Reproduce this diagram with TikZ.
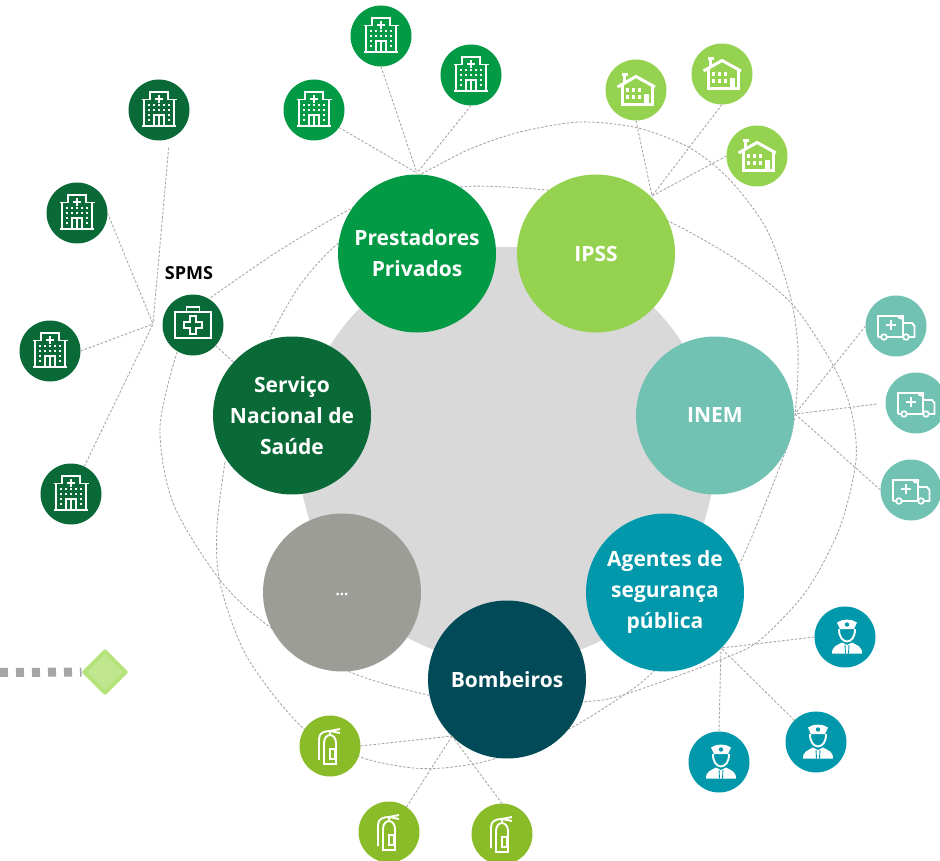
\documentclass[tikz,border=0pt]{standalone}
\usepackage{fontspec}
\setmainfont{Open Sans}
\usetikzlibrary{shapes.geometric}
\definecolor{cSns}{HTML}{0A6A37}
\definecolor{cPrest}{HTML}{039A45}
\definecolor{cIpss}{HTML}{94D250}
\definecolor{cInem}{HTML}{72C2B4}
\definecolor{cAgent}{HTML}{0098AA}
\definecolor{cBomb}{HTML}{004B57}
\definecolor{cOther}{HTML}{9D9D97}
\definecolor{cFire}{HTML}{8ABB28}
\definecolor{cDisc}{HTML}{D9D9D9}
\definecolor{cLine}{HTML}{A8A8A8}
\tikzstyle{main} = [circle, minimum size=158pt, inner sep=0pt, outer sep=0pt, text=white, align=center, font=\bfseries\fontsize{21}{31}\selectfont]
\tikzstyle{sat} = [circle, minimum size=61pt, inner sep=0pt, outer sep=0pt]
\tikzstyle{link} = [draw=cLine, line width=0.9pt, dash pattern=on 2.6pt off 1.7pt]
\tikzstyle{icon} = [draw=white, line width=1.9pt]
\tikzset{
	hospital/.pic={
		\draw[icon] (-17.5,-10.5) -- (-9,-10.5) -- (-9,-18) -- (9,-18) -- (9,-10.5) -- (17.5,-10.5);
		\draw[icon] (-15,-10.5) -- (-15,16) (15,-10.5) -- (15,16) (-17,16) -- (17,16);
		\draw[icon] (-5,16) -- (-5,5) -- (5,5) -- (5,16) (0,5) -- (0,16);
		\draw[white, line width=2.6pt] (-4,-11) -- (4,-11) (0,-15) -- (0,-7);
		\foreach \i in {-10,-5,0,5,10}{
			\fill[white] (\i-1.1,-6.1) rectangle (\i+1.1,-3.9);
			\fill[white] (\i-1.1,-1.1) rectangle (\i+1.1,1.1);
		}
		\foreach \i in {-10,10}{
			\fill[white] (\i-1.1,3.9) rectangle (\i+1.1,6.1);
			\fill[white] (\i-1.1,8.9) rectangle (\i+1.1,11.1);
		}
	},
	house/.pic={
		\draw[white, line width=3pt] (-18.5,-3) -- (0,-13.5) -- (19,-3);
		\draw[white, line width=3pt] (-14,-5) -- (-14,14.5) -- (16,14.5) -- (16,-5);
		\fill[white] (-14.5,-16.5) rectangle (-8.5,-13.5);
		\fill[white] (-13,-14) rectangle (-10,-8);
		\fill[white] (7.5,4) rectangle (13,14);
		\foreach \i in {-9,-3,3}{
			\fill[white] (\i-1.5,-2) rectangle (\i+1.5,2.5);
			\fill[white] (\i-1.5,5) rectangle (\i+1.5,9.5);
		}
	},
	ambulance/.pic={
		\draw[icon] (-18,11) -- (-18,-10) -- (7,-10) -- (7,11);
		\draw[icon] (7,-3) -- (16,-3) -- (18.5,0) -- (18.5,11) -- (-18,11);
		\draw[icon] (2.5,-10) arc[start angle=180, end angle=0, radius=2.5];
		\draw[white, line width=2.2pt] (-10,-1) -- (0,-1) (-5,-6) -- (-5,4);
		\filldraw[fill=cInem, draw=white, line width=1.7pt] (-12,11) circle (2.8) (10,11) circle (2.8);
	},
	police/.pic={
		\begin{scope}[shift={(2,0)}]
		\fill[white] (-7,-8) -- (-10,-14.5) .. controls (-4,-18.5) and (4,-18.5) .. (10,-14.5) -- (7,-8) -- cycle;
		\fill[cAgent] (0,-12.5) circle (2.2);
		\draw[icon] (-8,-8) .. controls (-8,1) and (-4,4) .. (0,4.5) .. controls (4,4) and (8,1) .. (8,-8);
		\fill[white] (-15,16.5) .. controls (-15,9) and (-10,8.5) .. (-5,5.5) -- (0,8) -- (5,5.5) .. controls (10,8.5) and (15,9) .. (15,16.5) -- cycle;
		\draw[cAgent, line width=0.9pt] (-2,8) -- (-1.5,16.5) (2,8) -- (1.5,16.5);
		\end{scope}
	},
	extinguisher/.pic={
		\draw[icon] (-6,18) -- (-6,-3) .. controls (-6,-8) and (-3,-11) .. (0,-11) .. controls (3,-11) and (6,-8) .. (6,-3) -- (6,18) -- cycle;
		\draw[white, line width=1.6pt] (0,3) rectangle (5,13);
		\draw[icon] (-11,14) -- (-11,-7) .. controls (-11,-13) and (-6,-15) .. (0,-15) -- (10,-17);
		\draw[icon] (0,-15) -- (10,-13) (0,-15) -- (0,-11);
	},
	medkit/.pic={
		\draw[icon] (-18,-13) rectangle (18,13);
		\draw[icon] (-6.5,-13) -- (-6.5,-18) -- (6.5,-18) -- (6.5,-13);
		\draw[icon] (-3,-9) -- (3,-9) -- (3,-3) -- (9,-3) -- (9,3) -- (3,3) -- (3,9) -- (-3,9) -- (-3,3) -- (-9,3) -- (-9,-3) -- (-3,-3) -- cycle;
	}
}
\begin{document}
\begin{tikzpicture}[x=1pt,y=-1pt]
	\useasboundingbox (0,0) rectangle (940,861);
	\fill[cDisc] (507,455) circle (208);

	% the long curves run under the circles
	\draw[link] plot[smooth] coordinates {(177,352) (160,427) (173,503) (220,580) (270,627) (350,672) (428,695) (507,708) (583,702) (623,695) (720,660) (760,640) (807,590) (840,527) (856,460) (851,410) (833,365) (793,305) (740,262) (670,222) (610,200) (547,190) (460,187) (400,208) (340,242) (300,285) (270,337)};
	\draw[link] plot[smooth] coordinates {(225,462) (217,527) (220,583) (247,657) (303,728) (360,757) (413,768) (453,767) (497,758) (567,730) (627,693) (653,672) (700,625) (740,563) (785,453) (795,414) (798,350) (790,295) (767,230) (730,180) (690,148) (638,128) (580,122) (520,132) (470,149) (423,173) (352,208) (280,250) (210,298)};

	\node[main, fill=cSns](sns) at (292,415.5){Serviço\\Nacional de\\Saúde};
	\node[main, fill=cPrest](prest) at (417,253.5){Prestadores\\Privados};
	\node[main, fill=cIpss](ipss) at (596,253.5){IPSS};
	\node[main, fill=cInem](inem) at (715,415.5){INEM};
	\node[main, fill=cAgent](agent) at (665,592.5){Agentes de\\segurança\\pública};
	\node[main, fill=cBomb](bomb) at (507,679.5){Bombeiros};
	\node[main, fill=cOther](other) at (342,592.5){\raisebox{-7pt}{\fontsize{15}{15}\selectfont ...}};

	\foreach \n/\x/\y in {hs1/159/110, hs2/77/213, hs3/50/351, hs4/71/494}{
		\node[sat, fill=cSns](\n) at (\x,\y){};
		\pic at (\x,\y) {hospital};
	}
	\foreach \n/\x/\y in {hp1/314/110, hp2/381/36, hp3/471/75}{
		\node[sat, fill=cPrest](\n) at (\x,\y){};
		\pic at (\x,\y) {hospital};
	}
	\foreach \n/\x/\y in {ca1/636/90, ca2/722/74, ca3/757/156}{
		\node[sat, fill=cIpss](\n) at (\x,\y){};
		\pic at (\x,\y) {house};
	}
	\foreach \n/\x/\y in {am1/896/326, am2/916/403, am3/911/490}{
		\node[sat, fill=cInem](\n) at (\x,\y){};
		\pic at (\x,\y) {ambulance};
	}
	\foreach \n/\x/\y in {po1/845/637, po2/816/742, po3/719/762}{
		\node[sat, fill=cAgent](\n) at (\x,\y){};
		\pic at (\x,\y) {police};
	}
	\foreach \n/\x/\y in {fi1/330/746, fi2/389/832, fi3/502/834}{
		\node[sat, fill=cFire](\n) at (\x,\y){};
		\pic at (\x,\y) {extinguisher};
	}
	\node[sat, fill=cSns](spms) at (193,325){};
	\pic at (193,325) {medkit};
	\node(spmslabel) at (189,273){\bfseries\fontsize{18}{18}\selectfont SPMS};

	\coordinate(hubS) at (153,324);
	\coordinate(hubP) at (417,173);
	\coordinate(hubI) at (652,196);
	\coordinate(hubN) at (795,414);
	\coordinate(hubA) at (721,648);
	\coordinate(hubB) at (452,736);

	\draw[link, shorten <=9pt](hs1.-70) -- (hubS);
	\draw[link](hs2.east) -- (hubS);
	\draw[link](hs3.east) -- (hubS);
	\draw[link](hs4) -- (hubS);
	\draw[link](spms) -- (sns);

	\draw[link](hp1.-35) -- (hubP);
	\draw[link](hp2.south) -- (hubP);
	\draw[link](hp3.south) -- (hubP);

	\draw[link](ca1.south) -- (hubI);
	\draw[link](ca2.south) -- (hubI);
	\draw[link](ca3.west) -- (hubI);

	\draw[link](am1.west) -- (hubN);
	\draw[link, shorten <=9pt](am2.west) -- (hubN);
	\draw[link](am3.west) -- (hubN);

	\draw[link](po1.west) -- (hubA);
	\draw[link](po2.135) -- (hubA);
	\draw[link](po3.north) -- (hubA);

	\draw[link](fi1.east) -- (hubB);
	\draw[link](fi2.55) -- (hubB);
	\draw[link](fi3.north) -- (hubB);

	\definecolor{cGate}{HTML}{B5E37B}
	\node[diamond, minimum size=43pt, inner sep=0pt, fill=cGate!85!white, draw=cGate, line width=4pt, line join=round](gate) at (105,672){};
	\coordinate(gatestart) at (0,672.5);
	\draw[draw=black!35, line width=9pt, dash pattern=on 8pt off 8pt](gatestart) -- (gate.west);
\end{tikzpicture}
\end{document}
